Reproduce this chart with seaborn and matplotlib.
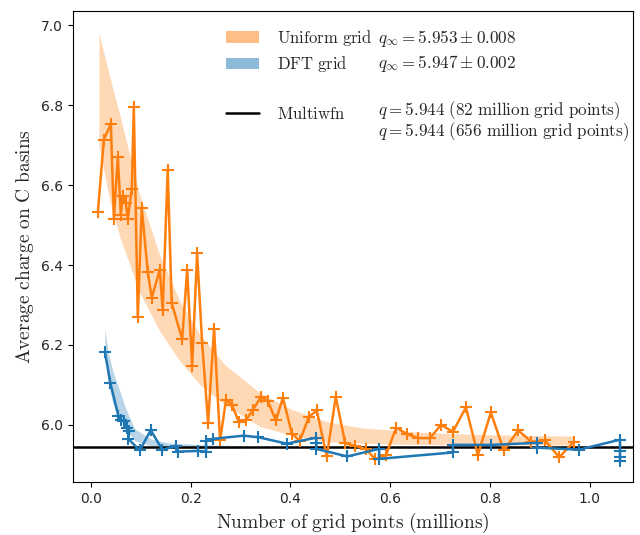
import matplotlib
matplotlib.use("Agg")
import matplotlib.pyplot as plt
import seaborn as sns
import numpy as np
import pandas as pd
from matplotlib.patches import Patch
from matplotlib.lines import Line2D

# ---- data -------------------------------------------------------------
uniform_n = [0.014, 0.026, 0.040, 0.046, 0.054, 0.060, 0.064, 0.070, 0.074, 0.082,
             0.086, 0.094, 0.102, 0.114, 0.122, 0.138, 0.144, 0.154, 0.162, 0.183,
             0.193, 0.203, 0.213, 0.223, 0.235, 0.247, 0.259, 0.271, 0.283, 0.297,
             0.311, 0.325, 0.341, 0.355, 0.371, 0.385, 0.403, 0.419, 0.437, 0.453,
             0.473, 0.491, 0.510, 0.530, 0.552, 0.570, 0.592, 0.612, 0.634, 0.656,
             0.680, 0.702, 0.726, 0.752, 0.776, 0.802, 0.828, 0.857, 0.883, 0.911,
             0.939, 0.969]
uniform_q = [6.533, 6.714, 6.753, 6.515, 6.671, 6.525, 6.573, 6.555, 6.515, 6.591,
             6.796, 6.270, 6.542, 6.383, 6.318, 6.388, 6.288, 6.637, 6.305, 6.214,
             6.388, 6.148, 6.429, 6.206, 6.005, 6.241, 5.961, 6.063, 6.050, 6.006,
             6.012, 6.038, 6.070, 6.059, 6.011, 6.068, 5.978, 5.960, 6.020, 6.036,
             5.921, 6.070, 5.954, 5.948, 5.939, 5.914, 5.925, 5.993, 5.977, 5.967,
             5.967, 6.000, 5.983, 6.044, 5.925, 6.031, 5.936, 5.986, 5.958, 5.961,
             5.919, 5.958]

dft_n = [0.028, 0.039, 0.055, 0.061, 0.067, 0.073, 0.077, 0.075, 0.098, 0.120,
         0.143, 0.171, 0.175, 0.215, 0.231, 0.231, 0.244, 0.306, 0.336, 0.393,
         0.452, 0.452, 0.452, 0.514, 0.578, 0.578, 0.726, 0.726, 0.802, 0.895,
         0.895, 0.979, 1.061, 1.061, 1.061, 1.061]
dft_q = [6.183, 6.105, 6.023, 6.012, 6.010, 5.992, 5.985, 5.965, 5.936, 5.987,
         5.938, 5.947, 5.933, 5.935, 5.933, 5.960, 5.965, 5.973, 5.969, 5.953,
         5.968, 5.955, 5.940, 5.921, 5.940, 5.915, 5.931, 5.950, 5.950, 5.955,
         5.943, 5.938, 5.963, 5.935, 5.920, 5.910]

# extrapolation bands (upper / lower edges of the fitted convergence curves)
uniform_band_n = [0.016, 0.038, 0.058, 0.098, 0.138, 0.178, 0.219, 0.269, 0.339,
                  0.400, 0.473, 0.540, 0.650, 0.750, 0.850, 0.969]
uniform_band_hi = [6.980, 6.870, 6.775, 6.575, 6.425, 6.310, 6.225, 6.150, 6.080,
                   6.040, 6.008, 5.993, 5.982, 5.977, 5.974, 5.972]
uniform_band_lo = [6.700, 6.560, 6.470, 6.330, 6.235, 6.160, 6.100, 6.050, 5.996,
                   5.975, 5.958, 5.954, 5.951, 5.950, 5.950, 5.950]

dft_band_n = [0.028, 0.035, 0.045, 0.055, 0.070, 0.088, 0.120, 0.155, 0.230, 0.300]
dft_band_hi = [6.240, 6.180, 6.130, 6.096, 6.040, 5.990, 5.965, 5.955, 5.950, 5.948]
dft_band_lo = [6.180, 6.100, 6.050, 6.020, 5.990, 5.960, 5.948, 5.943, 5.941, 5.941]

multiwfn_q = 5.944

legend_labels = ["Uniform grid", "DFT grid", "", "Multiwfn"]
q_texts = [r"$q_\infty = 5.953 \pm 0.008$",
           r"$q_\infty = 5.947 \pm 0.002$",
           r"$q = 5.944\ \mathrm{(82\ million\ grid\ points)}$",
           r"$q = 5.944\ \mathrm{(656\ million\ grid\ points)}$"]

# ---- figure -----------------------------------------------------------
sns.set_theme(style="ticks")
plt.rcParams["mathtext.fontset"] = "cm"
plt.rcParams["font.family"] = ["DejaVu Sans"]

fig = plt.figure(figsize=(6.4, 5.35), dpi=100)
ax = fig.add_axes([0.114, 0.099, 0.875, 0.880])

orange = sns.color_palette("tab10")[1]
blue = sns.color_palette("tab10")[0]

ax.fill_between(uniform_band_n, uniform_band_lo, uniform_band_hi,
                color=orange, alpha=0.3, lw=0)
ax.fill_between(dft_band_n, dft_band_lo, dft_band_hi,
                color=blue, alpha=0.3, lw=0)

ax.axhline(multiwfn_q, color="black", lw=1.8, zorder=1)

uni = pd.DataFrame({"n": uniform_n, "q": uniform_q})
dft = pd.DataFrame({"n": dft_n, "q": dft_q})
sns.lineplot(data=uni, x="n", y="q", ax=ax, sort=False, estimator=None,
             color=orange, lw=1.8, marker="+", markersize=8.5,
             markeredgewidth=1.5, markeredgecolor=orange, zorder=3)
sns.lineplot(data=dft, x="n", y="q", ax=ax, sort=False, estimator=None,
             color=blue, lw=1.8, marker="+", markersize=8.5,
             markeredgewidth=1.5, markeredgecolor=blue, zorder=3)

ax.set_xlim(-0.036, 1.087)
ax.set_ylim(5.857, 7.035)
ax.set_xticks([0.0, 0.2, 0.4, 0.6, 0.8, 1.0])
ax.set_yticks([6.0, 6.2, 6.4, 6.6, 6.8, 7.0])
ax.tick_params(labelsize=10, length=3.5, width=0.8, color="black")
for s in ax.spines.values():
    s.set_linewidth(0.8)
    s.set_color("black")

ax.set_xlabel(r"$\mathrm{Number\ of\ grid\ points\ (millions)}$", fontsize=14)
ax.set_ylabel(r"$\mathrm{Average\ charge\ on\ C\ basins}$", fontsize=14)

handles = [Patch(facecolor=orange, alpha=0.5, lw=0),
           Patch(facecolor=blue, alpha=0.5, lw=0),
           Line2D([], [], color="none"),
           Line2D([], [], color="black", lw=1.8)]
labels = [r"$\mathrm{" + t.replace(" ", r"\ ") + "}$" if t else " " for t in legend_labels]
ax.legend(handles, labels, loc="upper left", bbox_to_anchor=(0.246, 0.996),
          frameon=False, fontsize=12, handlelength=2.0, handletextpad=1.1,
          labelspacing=0.38)

for t, yy in zip(q_texts, [0.943, 0.890, 0.788, 0.745]):
    ax.text(0.545, yy, t, transform=ax.transAxes, fontsize=12.3, va="center")

fig.savefig("out.png", dpi=100)
